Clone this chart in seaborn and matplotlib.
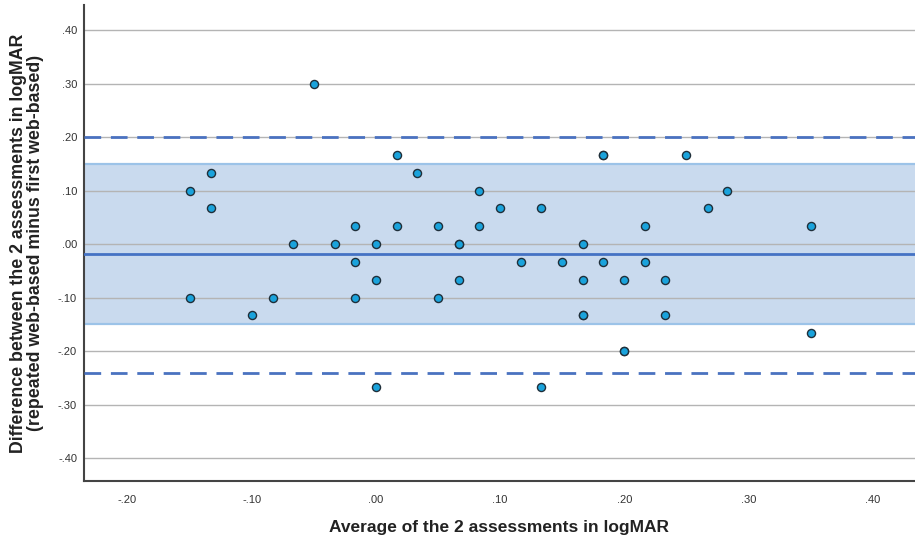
import matplotlib
matplotlib.use("Agg")
import matplotlib.pyplot as plt
import seaborn as sns
import pandas as pd

# Data (average, difference)
avg_vals = [-0.150, -0.133, -0.133, -0.150, -0.050, -0.067, -0.033, -0.083, -0.100,
            -0.017, -0.017, -0.017, 0.000, 0.000, 0.000, 0.017, 0.017, 0.033,
            0.050, 0.050, 0.067, 0.067, 0.067, 0.083, 0.083, 0.100, 0.117, 0.133,
            0.133, 0.150, 0.167, 0.167, 0.167, 0.167, 0.183, 0.183, 0.183,
            0.200, 0.200, 0.200, 0.217, 0.217, 0.233, 0.233, 0.250, 0.267,
            0.283, 0.350, 0.350]
diff_vals = [0.100, 0.133, 0.067, -0.100, 0.300, 0.000, 0.000, -0.100, -0.133,
             0.033, -0.033, -0.100, 0.000, -0.067, -0.267, 0.167, 0.033, 0.133,
             0.033, -0.100, 0.000, 0.000, -0.067, 0.100, 0.033, 0.067, -0.033, 0.067,
             -0.267, -0.033, 0.000, -0.067, -0.133, -0.133, 0.167, 0.167, -0.033,
             -0.067, -0.200, -0.200, 0.033, -0.033, -0.067, -0.133, 0.167, 0.067,
             0.100, 0.033, -0.167]

mean_diff = -0.019
upper_loa = 0.201
lower_loa = -0.240
band_low, band_high = -0.15, 0.15

x_ticks = [-0.2, -0.1, 0.0, 0.1, 0.2, 0.3, 0.4]
x_tick_labels = ["-.20", "-.10", ".00", ".10", ".20", ".30", ".40"]
y_ticks = [-0.4, -0.3, -0.2, -0.1, 0.0, 0.1, 0.2, 0.3, 0.4]
y_tick_labels = ["-.40", "-.30", "-.20", "-.10", ".00", ".10", ".20", ".30", ".40"]

df = pd.DataFrame({"avg": avg_vals, "diff": diff_vals})

sns.set_style("white")
plt.rcParams["font.family"] = ["Liberation Sans", "DejaVu Sans"]

fig = plt.figure(figsize=(9.15, 5.4), dpi=100)
ax = fig.add_axes([0.0918, 0.109, 0.9082, 0.882])

ax.axhspan(band_low, band_high, facecolor="#c9daee", edgecolor="none", zorder=1)
ax.axhline(band_high, color="#9cc3e8", lw=1.6, zorder=2)
ax.axhline(band_low, color="#9cc3e8", lw=1.6, zorder=2)

for yt in y_ticks:
    ax.axhline(yt, color="#b4b4b4", lw=1.0, zorder=1.5)

ax.axhline(mean_diff, color="#4472c4", lw=2.0, zorder=3)
ax.axhline(upper_loa, color="#4a72c0", lw=2.0, ls=(0, (6, 3.5)), zorder=3)
ax.axhline(lower_loa, color="#4a72c0", lw=2.0, ls=(0, (6, 3.5)), zorder=3)

sns.scatterplot(data=df, x="avg", y="diff", ax=ax, s=34, color="#1aa3dc",
                edgecolor="#1f2f3a", linewidth=1.0, zorder=5, legend=False)

ax.set_xlim(-0.235, 0.434)
ax.set_ylim(-0.443, 0.447)
ax.set_xticks(x_ticks)
ax.set_xticklabels(x_tick_labels)
ax.set_yticks(y_ticks)
ax.set_yticklabels(y_tick_labels)
ax.tick_params(axis="both", length=0, labelsize=8, labelcolor="#333333")
ax.tick_params(axis="x", pad=10)
ax.tick_params(axis="y", pad=5)

for s in ["top", "right"]:
    ax.spines[s].set_visible(False)
for s in ["left", "bottom"]:
    ax.spines[s].set_color("#444444")
    ax.spines[s].set_linewidth(1.5)

ax.set_xlabel("Average of the 2 assessments in logMAR", fontsize=12.5,
              fontweight="bold", color="#222222", labelpad=11)
ax.set_ylabel("Difference between the 2 assessments in logMAR\n(repeated web-based minus first web-based)",
              fontsize=12.8, fontweight="bold", color="#222222", labelpad=10,
              linespacing=1.0)

fig.savefig("out.png", dpi=100)
